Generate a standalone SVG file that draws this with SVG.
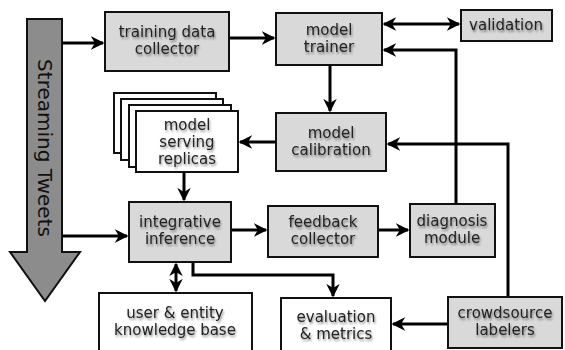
<svg xmlns="http://www.w3.org/2000/svg" width="565" height="350" viewBox="0 0 565 350">
<style>
.box{fill:#d9d9d9;stroke:#111;stroke-width:2}
.wbox{fill:#fff;stroke:#111;stroke-width:2}
.t{font-family:"DejaVu Sans",sans-serif;font-size:15px;fill:#222;text-anchor:middle;filter:url(#sh)}
.c{fill:none;stroke:#000;stroke-width:3}
</style>
<defs>
<marker id="a" viewBox="0 0 10 10" refX="9" refY="5" markerWidth="4.5" markerHeight="4.5" orient="auto-start-reverse" markerUnits="strokeWidth">
<path d="M0,0 L10,5 L0,10 L3,5 z" fill="#000"/>
</marker>
<filter id="sh" x="-10%" y="-20%" width="120%" height="150%">
<feGaussianBlur in="SourceAlpha" stdDeviation="1.2"/>
<feOffset dx="1" dy="1.5" result="b"/>
<feComponentTransfer><feFuncA type="linear" slope="0.45"/></feComponentTransfer>
<feMerge><feMergeNode/><feMergeNode in="SourceGraphic"/></feMerge>
</filter>
</defs>
<rect width="565" height="350" fill="#fff"/>
<g id="streaming">
<path d="M27,19 H62 V252 H80 L45,301 L10,252 H27 Z" fill="#8c8c8c" stroke="#111" stroke-width="2"/>
<text transform="translate(38,148) rotate(90)" font-family="DejaVu Sans,sans-serif" font-size="20" fill="#111" text-anchor="middle">Streaming Tweets</text>
</g>
<g id="connectors">
<path class="c" d="M62,43 H103" marker-end="url(#a)"/>
<path class="c" d="M229,38 H274" marker-end="url(#a)"/>
<path class="c" d="M384,24 H459" marker-start="url(#a)" marker-end="url(#a)"/>
<path class="c" d="M456,204 V50 H384" marker-end="url(#a)"/>
<path class="c" d="M330,65 V111" marker-end="url(#a)"/>
<path class="c" d="M508,297 V144 H388" marker-end="url(#a)"/>
<path class="c" d="M276,142 H240" marker-end="url(#a)"/>
<path class="c" d="M184,172 V200" marker-end="url(#a)"/>
<path class="c" d="M62,236 H127" marker-end="url(#a)"/>
<path class="c" d="M231,230 H266" marker-end="url(#a)"/>
<path class="c" d="M378,230 H408" marker-end="url(#a)"/>
<path class="c" d="M193,263 V275 H333 V296" marker-end="url(#a)"/>
<path class="c" d="M447,324 H393" marker-end="url(#a)"/>
<path class="c" d="M176,264 V291" marker-start="url(#a)" marker-end="url(#a)"/>
</g>
<g id="training">
<rect class="box" x="105" y="12" width="124" height="59"/>
<text class="t" x="167" y="37">training data</text>
<text class="t" x="167" y="54">collector</text>
</g>
<g id="trainer">
<rect class="box" x="276" y="13" width="106" height="52"/>
<text class="t" x="329" y="35">model</text>
<text class="t" x="329" y="52">trainer</text>
</g>
<g id="validation">
<rect class="box" x="461" y="10" width="91" height="31"/>
<text class="t" x="506" y="30">validation</text>
</g>
<g id="calibration">
<rect class="box" x="276" y="113" width="110" height="58"/>
<text class="t" x="331" y="138">model</text>
<text class="t" x="331" y="155">calibration</text>
</g>
<g id="replicas">
<rect class="wbox" x="114" y="93" width="102" height="60"/>
<rect class="wbox" x="121" y="99" width="102" height="61"/>
<rect class="wbox" x="129" y="105" width="102" height="62"/>
<rect class="wbox" x="136" y="111" width="102" height="61"/>
<text class="t" x="187" y="130">model</text>
<text class="t" x="187" y="147">serving</text>
<text class="t" x="187" y="164">replicas</text>
</g>
<g id="integrative">
<rect class="box" x="129" y="202" width="102" height="60"/>
<text class="t" x="180" y="227">integrative</text>
<text class="t" x="180" y="244">inference</text>
</g>
<g id="feedback">
<rect class="box" x="268" y="206" width="110" height="51"/>
<text class="t" x="323" y="227">feedback</text>
<text class="t" x="323" y="244">collector</text>
</g>
<g id="diagnosis">
<rect class="box" x="410" y="204" width="85" height="53"/>
<text class="t" x="452" y="226">diagnosis</text>
<text class="t" x="452" y="243">module</text>
</g>
<g id="knowledge">
<rect class="wbox" x="99" y="293" width="153" height="62"/>
<text class="t" x="175" y="318">user &amp; entity</text>
<text class="t" x="175" y="335">knowledge base</text>
</g>
<g id="evaluation">
<rect class="wbox" x="281" y="298" width="110" height="57"/>
<text class="t" x="336" y="322">evaluation</text>
<text class="t" x="336" y="339">&amp; metrics</text>
</g>
<g id="crowdsource">
<rect class="box" x="448" y="297" width="114" height="51"/>
<text class="t" x="505" y="318">crowdsource</text>
<text class="t" x="505" y="335">labelers</text>
</g>
</svg>
